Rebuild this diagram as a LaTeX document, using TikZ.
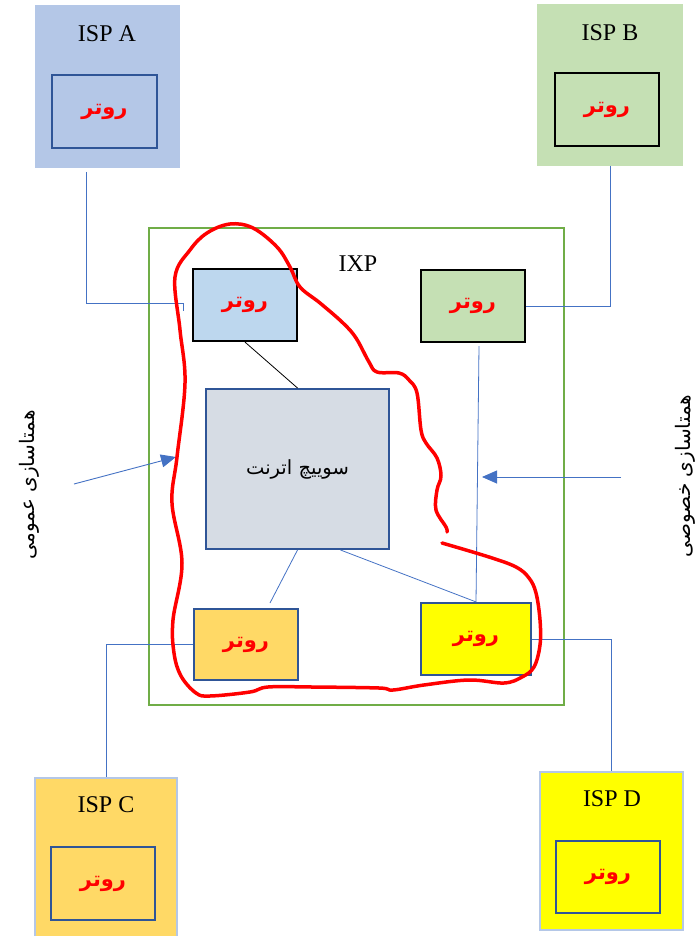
\documentclass[tikz,border=0pt]{standalone}
\usepackage{fontspec}
\setmainfont{Liberation Serif}
\newfontfamily\arabicfont[Script=Arabic]{DejaVu Sans}
\TeXXeTstate=1
\usetikzlibrary{arrows.meta,calc}
\definecolor{ispblue}{HTML}{B4C7E7}
\definecolor{rtblue}{HTML}{BDD7EE}
\definecolor{ispgreen}{HTML}{C5E0B4}
\definecolor{isporange}{HTML}{FFD966}
\definecolor{ispyellow}{HTML}{FFFF00}
\definecolor{swgray}{HTML}{D6DCE4}
\definecolor{edgeblue}{HTML}{2F5597}
\definecolor{linkblue}{HTML}{4472C4}
\definecolor{ixpgreen}{HTML}{70AD47}
\begin{document}
\begin{tikzpicture}[x=1pt,y=-1pt,
    isp/.style={rectangle,draw=ispblue,line width=1.5pt,minimum width=143pt,minimum height=161pt},
    isplbl/.style={font=\fontsize{24}{28}\selectfont},
    router/.style={rectangle,line width=2.2pt,minimum width=105pt,minimum height=73pt,text=red,
        font=\arabicfont\bfseries\fontsize{21}{24}\selectfont},
    link/.style={draw=linkblue,line width=0.8pt},
    peer/.style={draw=linkblue,line width=0.9pt,-{Triangle[length=15pt,width=13pt]}},
    falbl/.style={font=\arabicfont\fontsize{20}{24}\selectfont,rotate=90}]
\useasboundingbox (0,0) rectangle (698,936);
% ISP boxes
\node[isp,fill=ispblue] (ispA) at (107.5,86.5) {};
\node[isplbl] at (107,34) {ISP A};
\node[router,draw=edgeblue,fill=ispblue] (rtA) at (104.5,111.5) {\beginR روتر\endR};
\node[isp,draw=ispgreen,fill=ispgreen,minimum width=144pt,minimum height=160pt] (ispB) at (610,85) {};
\node[isplbl] at (610,33) {ISP B};
\node[router,draw=black,fill=ispgreen,minimum width=104pt] (rtB) at (607,109.5) {\beginR روتر\endR};
\node[isp,fill=isporange,minimum width=142pt,minimum height=162pt] (ispC) at (106,859) {};
\node[isplbl] at (106,805) {ISP C};
\node[router,draw=edgeblue,fill=isporange,minimum width=104pt] (rtC) at (103,883.5) {\beginR روتر\endR};
\node[isp,fill=ispyellow,minimum height=158pt] (ispD) at (611.5,851) {};
\node[isplbl] at (612,799) {ISP D};
\node[router,draw=edgeblue,fill=ispyellow,minimum width=104pt,minimum height=72pt] (rtD) at (608,877) {\beginR روتر\endR};
% IXP
\node[rectangle,draw=ixpgreen,line width=2pt,minimum width=415pt,minimum height=477pt] (ixp) at (356.5,466.5) {};
\node[isplbl] at (358,264) {IXP};
\node[router,draw=black,fill=rtblue,minimum width=104pt,minimum height=72pt] (xA) at (245,305) {\beginR روتر\endR};
\node[router,draw=black,fill=ispgreen,minimum width=104pt,minimum height=72pt] (xB) at (473,306) {\beginR روتر\endR};
\node[router,draw=edgeblue,fill=isporange,minimum width=104pt,minimum height=71pt] (xC) at (246,644.5) {\beginR روتر\endR};
\node[router,draw=edgeblue,fill=ispyellow,minimum width=110pt,minimum height=72pt] (xD) at (476,639) {\beginR روتر\endR};
\node[rectangle,draw=edgeblue,line width=2pt,fill=swgray,minimum width=183pt,minimum height=160pt,
    font=\arabicfont\fontsize{19.5}{23}\selectfont] (sw) at (297.5,469) {\beginR سوییچ اترنت\endR};
% links
\coordinate (aTail) at (86,172);
\coordinate (aBend) at (183,303);
\coordinate (aEnd) at (183,311);
\coordinate (cTop) at (270,603);
\coordinate (swOut) at ($(sw.south)+(43,0)$);
\coordinate (bOut) at ($(xB.south)+(6,3)$);
\draw[link] (aTail) |- (aBend) -- (aEnd);
\draw[link] (ispB.south) |- (xB.east);
\draw[link] (xC.west) -| (ispC.north);
\draw[link] (xD.east) -| (ispD.north);
\draw[line width=0.8pt] (xA.south) -- (sw.north);
\draw[link] (sw.south) -- (cTop);
\draw[link] (swOut) -- (xD.north);
\draw[link] (bOut) -- (xD.north);
% peering arrows
\coordinate (pubTail) at (74,484);
\coordinate (pubTip) at (176,457);
\coordinate (privTail) at (621,477);
\coordinate (privTip) at (482,477);
\draw[peer] (pubTail) -- (pubTip);
\draw[peer] (privTail) -- (privTip);
\node[falbl] (pub) at (29,485) {\beginR همتاسازی عمومی\endR};
\node[falbl] (priv) at (685,476) {\beginR همتاسازی خصوصی\endR};
% public peering loop
\draw[red,line width=3.5pt,line cap=round,line join=round] plot[smooth,tension=0.6] coordinates {
    (442,543) (489,557) (516,567) (529,578) (536,593) (540,620) (540,645) (534,667) (522,677)
    (504,683) (469,680) (424,685) (393,690) (379,688) (312,687) (268,687) (250,692) (210,696)
    (196,693) (181,676) (174,653) (173,620) (182,563) (172,503) (177,457) (185,383) (180,330)
    (175,277) (190,250) (207,233) (230,224) (253,228) (277,247) (290,267) (300,287) (320,303)
    (343,323) (356,338) (369,362) (377,372) (399,373) (409,380) (417,393) (421,430) (426,443)
    (437,458) (441,476) (437,490) (436,510) (446,527) (447,532)};
\end{tikzpicture}
\end{document}
